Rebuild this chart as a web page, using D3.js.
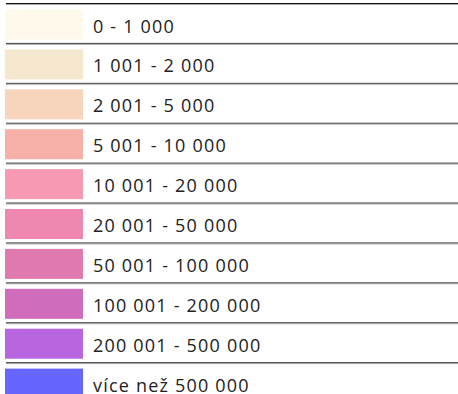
<!DOCTYPE html>
<html>
<head>
<meta charset="utf-8">
<script src="https://cdn.jsdelivr.net/npm/d3@7"></script>
<style>
  html, body { margin: 0; padding: 0; background: #fff; }
  svg { display: block; }
</style>
</head>
<body>
<svg id="chart" width="458" height="394"></svg>
<script>
// Legend classes (range labels) and their fill colours
const categories = [
  "0 - 1 000",
  "1 001 - 2 000",
  "2 001 - 5 000",
  "5 001 - 10 000",
  "10 001 - 20 000",
  "20 001 - 50 000",
  "50 001 - 100 000",
  "100 001 - 200 000",
  "200 001 - 500 000",
  "více než 500 000"
];
const colors = [
  "#fff9ec", "#f5e8ce", "#f7d5bc", "#f7b1a8", "#f799b3",
  "#ee88b0", "#e07aae", "#cf6cbc", "#b865e0", "#6666ff"
];

const svg = d3.select("#chart");
const W = 458;

const y = d3.scaleBand()
  .domain(categories)
  .range([3, 402])
  .paddingInner(0)
  .paddingOuter(0);

const color = d3.scaleOrdinal().domain(categories).range(colors);

const rows = svg.selectAll("g.row")
  .data(categories)
  .join("g")
  .attr("class", "row")
  .attr("transform", d => `translate(0,${y(d)})`);

// separator line above each row: dark rule with a soft grey shadow beneath
rows.append("line")
  .attr("x1", 6).attr("x2", W)
  .attr("y1", 1.5).attr("y2", 1.5)
  .attr("stroke", "#aaa")
  .attr("stroke-width", 1);
rows.append("line")
  .attr("x1", 6).attr("x2", W)
  .attr("y1", 0.5).attr("y2", 0.5)
  .attr("stroke", (d, i) => i === 0 ? "#111" : "#444")
  .attr("stroke-width", 1);

rows.append("rect")
  .attr("x", 5)
  .attr("y", 6.5)
  .attr("width", 78)
  .attr("height", 30)
  .attr("fill", d => color(d));

rows.append("text")
  .attr("x", 93)
  .attr("y", 29.5)
  .attr("fill", "#222")
  .style("font-family", "'Open Sans', sans-serif")
  .style("font-size", "18px")
  .style("letter-spacing", "1.2px")
  .text(d => d);
</script>
</body>
</html>
